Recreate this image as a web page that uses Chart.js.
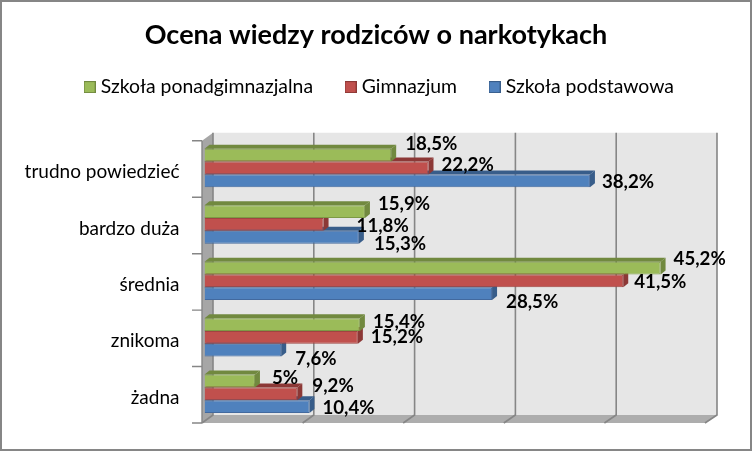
<!DOCTYPE html>
<html>
<head>
<meta charset="utf-8">
<script src="https://cdn.jsdelivr.net/npm/chart.js@4"></script>
<style>
html, body { margin: 0; padding: 0; background: #fff; }
#wrap { width: 752px; height: 451px; box-sizing: border-box; position: relative; }
canvas { display: block; }
</style>
</head>
<body>
<div id="wrap"><canvas id="ocenaChart" width="752" height="451"></canvas></div>
<script>
var categories = ['trudno powiedzieć', 'bardzo duża', 'średnia', 'znikoma', 'żadna'];
var ponadgimnazjalna = [18.5, 15.9, 45.2, 15.4, 5];
var gimnazjum = [22.2, 11.8, 41.5, 15.2, 9.2];
var podstawowa = [38.2, 15.3, 28.5, 7.6, 10.4];
var xTicks = [0, 10, 20, 30, 40, 50];

// hand-placed label nudges [dx, dy] from the bar end, same order as the datasets
var labelNudges = [
    [[14, -11], [13, -8], [13, -9], [13, -3], [17, -3]],
    [[13, -3], [33, 2], [11, 1], [13, 0], [15, -8]],
    [[12, 1], [15, 7], [14, 8], [14, 9], [13, 1]]
];

var DEPTH_X = 5, DEPTH_Y = 4;
var faceColor = ['#9BBB59', '#C0504D', '#4F81BD'];
var faceDark = ['#71893F', '#8C3836', '#385D8A'];
var edgeColor = ['#7D9A45', '#A04441', '#42699E'];

function poly(ctx, pts, fill) {
    ctx.beginPath();
    ctx.moveTo(pts[0][0], pts[0][1]);
    for (var i = 1; i < pts.length; i++) ctx.lineTo(pts[i][0], pts[i][1]);
    ctx.closePath();
    ctx.fillStyle = fill;
    ctx.fill();
}

// little square for the legend, wider than its layout slot so the text sits close
function legendSwatch(i) {
    var c = document.createElement('canvas');
    c.width = 12;
    c.height = 12;
    var g = c.getContext('2d');
    g.fillStyle = faceDark[i];
    g.fillRect(0, 0, 12, 12);
    g.fillStyle = faceColor[i];
    g.fillRect(1, 1, 10, 10);
    return c;
}
var swatches = [legendSwatch(0), legendSwatch(1), legendSwatch(2)];

// 3D looking walls, floor and grid (drawn from the scales)
var wallsPlugin = {
    id: 'walls',
    // legend sits a little right of centre in the original
    afterLayout: function (chart) {
        chart.legend.left += 5;
        chart.legend.right += 5;
    },
    beforeDatasetsDraw: function (chart) {
        var ctx = chart.ctx, area = chart.chartArea;
        var frontL = area.left - 2.5, frontR = area.right - 4;
        var backL = area.left + 8.5, backR = area.right + 8;
        var top = area.top + 1, bottom = area.bottom + 1;
        var backT = top - 8, backB = bottom - 8;
        ctx.save();
        poly(ctx, [[backL, backT], [backR, backT], [backR, backB], [backL, backB]], '#E6E6E6');
        poly(ctx, [[frontL, top], [backL, backT], [backL, backB], [frontL, bottom]], '#A6A6A6');
        poly(ctx, [[frontL, bottom], [backL, backB], [backR, backB], [frontR, bottom]], '#ADADAD');
        ctx.strokeStyle = '#868686';
        ctx.lineWidth = 1.6;
        xTicks.forEach(function (t) {
            var f = (t - xTicks[0]) / (xTicks[xTicks.length - 1] - xTicks[0]);
            var bx = backL + (backR - backL) * f;
            var fx = frontL + (frontR - frontL) * f;
            ctx.beginPath();
            ctx.moveTo(bx, backT);
            ctx.lineTo(bx, backB);
            ctx.lineTo(fx, bottom);
            ctx.stroke();
        });
        ctx.lineWidth = 1.4;
        ctx.beginPath();
        ctx.moveTo(frontL, top);
        ctx.lineTo(frontL, bottom);
        for (var i = 0; i <= categories.length; i++) {
            var ty = top + (bottom - top) * i / categories.length;
            ctx.moveTo(frontL - 10, ty);
            ctx.lineTo(frontL, ty);
        }
        ctx.stroke();
        ctx.restore();
    },
    // top and side faces go under the front rectangle of each dataset
    beforeDatasetDraw: function (chart, args) {
        var ctx = chart.ctx, dark = faceDark[args.index];
        ctx.save();
        chart.getDatasetMeta(args.index).data.forEach(function (bar) {
            var b = bar.getProps(['x', 'y', 'base', 'height'], true);
            var t = b.y - b.height / 2, u = b.y + b.height / 2;
            poly(ctx, [[b.base, t], [b.base + DEPTH_X, t - DEPTH_Y], [b.x + DEPTH_X, t - DEPTH_Y], [b.x, t]], dark);
            poly(ctx, [[b.x, t], [b.x + DEPTH_X, t - DEPTH_Y], [b.x + DEPTH_X, u - DEPTH_Y], [b.x, u]], dark);
        });
        ctx.restore();
    },
    afterDatasetsDraw: function (chart) {
        var ctx = chart.ctx;
        ctx.save();
        ctx.font = 'bold 18.7px Lato';
        ctx.fillStyle = '#000';
        ctx.textAlign = 'left';
        ctx.textBaseline = 'middle';
        chart.data.datasets.forEach(function (ds, i) {
            chart.getDatasetMeta(i).data.forEach(function (bar, j) {
                var txt = String(ds.data[j]).replace('.', ',') + '%';
                ctx.fillText(txt, bar.x + labelNudges[i][j][0], bar.y + labelNudges[i][j][1]);
            });
        });
        ctx.restore();
    },
    // outer frame of the chart
    afterDraw: function (chart) {
        var ctx = chart.ctx;
        ctx.save();
        ctx.strokeStyle = '#868686';
        ctx.lineWidth = 2;
        ctx.strokeRect(1, 1, chart.width - 2, chart.height - 2);
        ctx.restore();
    }
};

function barSet(label, data, i) {
    return {
        label: label,
        data: data,
        backgroundColor: faceColor[i],
        borderColor: edgeColor[i],
        borderWidth: 1,
        categoryPercentage: 0.68,
        barPercentage: 1
    };
}

new Chart(document.getElementById('ocenaChart').getContext('2d'), {
    type: 'bar',
    data: {
        labels: categories,
        datasets: [
            barSet('Szkoła ponadgimnazjalna', ponadgimnazjalna, 0),
            barSet('Gimnazjum', gimnazjum, 1),
            barSet('Szkoła podstawowa', podstawowa, 2)
        ]
    },
    options: {
        indexAxis: 'y',
        responsive: false,
        animation: false,
        layout: { padding: { left: 0, right: 0, top: 0, bottom: 29 } },
        plugins: {
            tooltip: { enabled: false },
            title: {
                display: true,
                text: 'Ocena wiedzy rodziców o narkotykach',
                color: '#000',
                font: { family: 'Lato', size: 27, weight: 'bold' },
                padding: { top: 19, bottom: -10 }
            },
            legend: {
                position: 'top',
                labels: {
                    color: '#000',
                    font: { family: 'Lato', size: 19.4 },
                    usePointStyle: true,
                    pointStyleWidth: 3,
                    boxHeight: 12,
                    padding: 36,
                    generateLabels: function (chart) {
                        var items = Chart.defaults.plugins.legend.labels.generateLabels(chart);
                        items.forEach(function (item, i) { item.pointStyle = swatches[i]; });
                        return items;
                    }
                }
            }
        },
        scales: {
            x: {
                position: 'top',
                min: 0,
                max: 50,
                grid: { display: false },
                border: { display: false },
                ticks: { display: false, stepSize: 10 },
                afterFit: function (scale) { scale.height = 33; }
            },
            y: {
                grid: { display: false },
                border: { display: false },
                ticks: {
                    color: '#000',
                    padding: 17,
                    labelOffset: 4,
                    font: { family: 'Lato', size: 19 }
                },
                afterFit: function (scale) { scale.width = 204.5; }
            },
            // empty strip so the title and legend stay centred on the whole picture
            rightGap: {
                axis: 'y',
                type: 'linear',
                position: 'right',
                grid: { display: false },
                border: { display: false },
                ticks: { display: false },
                afterFit: function (scale) { scale.width = 43; }
            }
        }
    },
    plugins: [wallsPlugin]
});
</script>
</body>
</html>
